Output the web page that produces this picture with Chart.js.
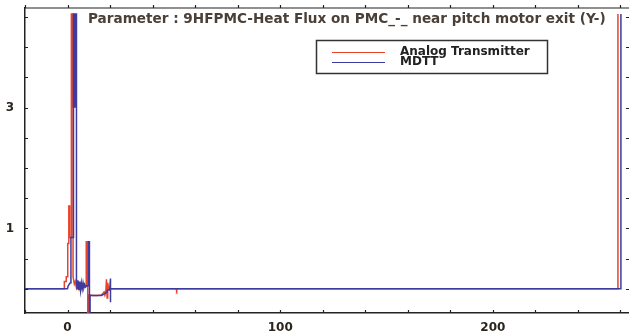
<!DOCTYPE html>
<html>
<head>
<meta charset="utf-8">
<script src="https://cdn.jsdelivr.net/npm/chart.js@4.4.1/dist/chart.umd.min.js"></script>
<style>
  html, body { margin: 0; padding: 0; background: #fff; }
  #wrap { width: 629px; height: 331px; position: relative; }
</style>
</head>
<body>
<div id="wrap"><canvas id="chart"></canvas></div>
<script>
const titleText = "Parameter : 9HFPMC-Heat Flux on PMC_-_ near pitch motor exit (Y-)";
const seriesNames = ["Analog Transmitter", "MDTT"];
const seriesColors = ["#e8442c", "#3c3ca0"];

// Analog Transmitter trace
const analogX = [-20, -1.5, -1.5, -0.6, -0.6, 0.1, 0.1, 0.6, 0.6, 1.0, 1.0, 1.8, 1.8, 2.2, 2.2, 2.2, 2.6, 2.6,
  3.2, 3.6, 4.2, 4.8, 5.4, 6.0, 6.6, 7.2, 7.8, 8.8, 8.8, 9.5, 9.5, 9.8, 9.8,
  12.0, 14.0, 16.0, 17.2, 17.6, 18.0, 18.3, 18.6, 18.9, 19.3, 20.0, 51.0, 51.3, 51.6, 258.8, 258.8];
const analogY = [0, 0, 0.12, 0.12, 0.2, 0.2, 0.75, 0.75, 1.37, 1.37, 0.85, 0.85, 4.55, 4.55, 3.0, 4.55, 4.55, 0.2,
  0.08, 0.12, 0.02, 0.1, 0.0, 0.08, 0.02, 0.06, 0.03, 0.05, 0.78, 0.78, -0.6, -0.6, -0.1,
  -0.11, -0.11, -0.1, -0.05, -0.08, -0.04, 0.16, -0.15, 0.1, 0, 0, 0, -0.03, 0, 0, 4.55];

// MDTT trace
const mdttX = [-20, 0.0, 0.3, 1.3, 1.6, 1.6, 2.8, 2.8, 3.5, 3.5, 3.5, 4.2, 4.2,
  4.5, 4.9, 5.3, 5.7, 6.1, 6.5, 6.9, 7.3, 7.7, 8.1, 8.5, 9.0, 9.9, 9.9, 10.3, 10.3, 10.6, 10.6,
  13, 16, 17.5, 18.5, 18.8, 19.8, 20.2, 20.2, 20.2, 260.2, 260.2];
const mdttY = [0, 0, 0.05, 0.1, 0.1, 0.85, 0.85, 4.55, 4.55, 3.0, 4.55, 4.55, 0.15,
  0.0, 0.14, -0.02, 0.12, -0.03, 0.1, 0.0, 0.1, 0.02, 0.07, 0.03, 0.05, 0.05, 0.78, 0.78, -0.6, -0.6, -0.11,
  -0.11, -0.11, -0.08, -0.06, -0.02, -0.02, 0.17, -0.22, 0, 0, 4.55];

const xLabelled = [0, 100, 200];
const yLabelled = [1, 3];

const toPoints = (xs, ys) => xs.map((x, i) => ({ x: x, y: ys[i] }));
const tickFont = { family: "DejaVu Sans", size: 12, weight: "bold" };
const axisColor = "#222";

// inward tick marks, top frame line, title text and boxed legend
const decorations = {
  id: "decorations",
  afterDraw(chart) {
    const { ctx, chartArea: a, scales } = chart;
    ctx.save();
    ctx.strokeStyle = axisColor;
    ctx.lineWidth = 1.2;
    ctx.beginPath();
    ctx.moveTo(a.left, a.top);
    ctx.lineTo(a.right, a.top);
    scales.x.ticks.forEach(t => {
      const px = Math.round(scales.x.getPixelForValue(t.value)) + 0.5;
      ctx.moveTo(px, a.bottom);
      ctx.lineTo(px, a.bottom - 3);
      ctx.moveTo(px, a.top);
      ctx.lineTo(px, a.top - 3);
    });
    scales.y.ticks.forEach(t => {
      const py = Math.round(scales.y.getPixelForValue(t.value)) + 0.5;
      ctx.moveTo(a.left, py);
      ctx.lineTo(a.left + 3, py);
      ctx.moveTo(a.right, py);
      ctx.lineTo(a.right - 3, py);
    });
    ctx.stroke();

    ctx.fillStyle = "#4b4038";
    ctx.font = "bold 13.6px 'DejaVu Sans'";
    ctx.textAlign = "left";
    ctx.textBaseline = "middle";
    ctx.fillText(titleText, 88, 19);

    ctx.strokeStyle = "#333";
    ctx.lineWidth = 1.5;
    ctx.strokeRect(316.5, 40.5, 231, 33);
    const rows = [52.5, 62.5];
    seriesNames.forEach((name, i) => {
      ctx.strokeStyle = seriesColors[i];
      ctx.lineWidth = 1.2;
      ctx.beginPath();
      ctx.moveTo(332, rows[i]);
      ctx.lineTo(385, rows[i]);
      ctx.stroke();
      ctx.fillStyle = "#222";
      ctx.font = "bold 12px 'DejaVu Sans'";
      ctx.fillText(name, 400, rows[i] - 1);
    });
    ctx.restore();
  }
};

new Chart(document.getElementById("chart"), {
  type: "line",
  data: {
    datasets: [
      {
        label: seriesNames[0],
        data: toPoints(analogX, analogY),
        borderColor: seriesColors[0],
        borderWidth: 1.5,
        pointRadius: 0,
        tension: 0,
        order: 2,
      },
      {
        label: seriesNames[1],
        data: toPoints(mdttX, mdttY),
        borderColor: seriesColors[1],
        borderWidth: 1.5,
        pointRadius: 0,
        tension: 0,
        order: 1,
      },
    ],
  },
  options: {
    responsive: true,
    maintainAspectRatio: false,
    animation: false,
    layout: { padding: { top: 8, right: 0, left: 0, bottom: 0 } },
    plugins: { legend: { display: false }, tooltip: { enabled: false } },
    scales: {
      x: {
        type: "linear",
        min: -20,
        max: 264,
        border: { display: true, color: axisColor, width: 1.5 },
        grid: { display: false },
        ticks: {
          stepSize: 20,
          includeBounds: false,
          autoSkip: false,
          maxRotation: 0,
          padding: 0,
          color: "#2b2520",
          font: tickFont,
          callback: v => (xLabelled.includes(v) ? String(v) : ""),
        },
        afterFit: s => { s.height = 18; s.paddingLeft = 0; s.paddingRight = 0; },
      },
      y: {
        min: -0.4,
        max: 4.65,
        border: { display: true, color: axisColor, width: 1.5 },
        grid: { display: false },
        ticks: {
          stepSize: 0.5,
          includeBounds: false,
          autoSkip: false,
          padding: 3,
          color: "#2b2520",
          font: tickFont,
          callback: v => (yLabelled.some(l => Math.abs(l - v) < 1e-6) ? String(v) : ""),
        },
        afterFit: s => { s.width = 25; s.paddingTop = 0; s.paddingBottom = 0; },
      },
    },
  },
  plugins: [decorations],
});
</script>
</body>
</html>
